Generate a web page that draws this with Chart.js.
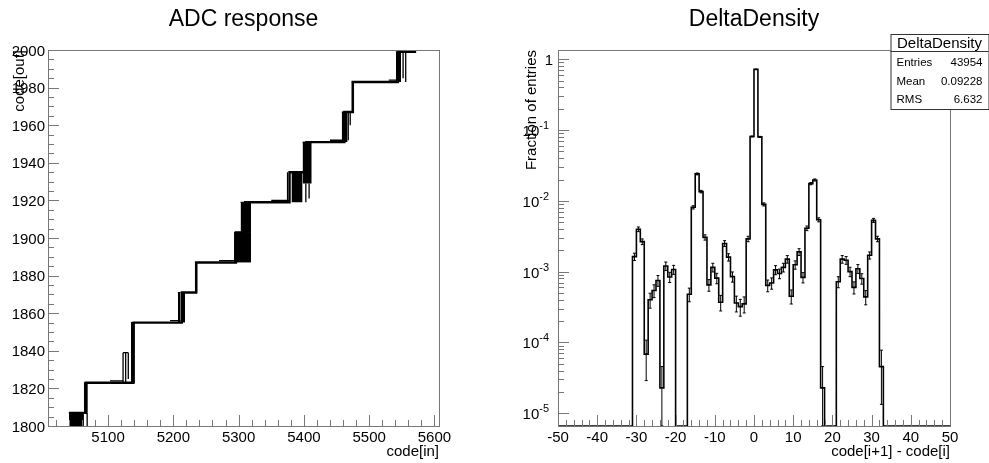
<!DOCTYPE html>
<html>
<head>
<meta charset="utf-8">
<script src="https://cdn.jsdelivr.net/npm/chart.js@4.4.0/dist/chart.umd.min.js"></script>
<style>
  html, body { margin: 0; padding: 0; background: #fff; }
  #wrap { position: relative; width: 989px; height: 463px; background: #fff; }
  #pad1 { position: absolute; left: 0; top: 0; }
  #pad2 { position: absolute; left: 494px; top: 0; }
</style>
</head>
<body>
<div id="wrap">
  <canvas id="pad1" width="494" height="463"></canvas>
  <canvas id="pad2" width="495" height="463"></canvas>
</div>
<script>
// ---------- left pad : ADC response ----------
var adcTitle = 'ADC response';
var adcXTitle = 'code[in]';
var adcYTitle = 'code[out]';
var adcXRange = [5008, 5607];
var adcYRange = [1800, 2000];
var adcXTicks = [5100, 5200, 5300, 5400, 5500, 5600];
var adcXLabels = ['5100', '5200', '5300', '5400', '5500', '5600'];
var adcYTicks = [1800, 1820, 1840, 1860, 1880, 1900, 1920, 1940, 1960, 1980, 2000];
var adcYLabels = ['1800', '1820', '1840', '1860', '1880', '1900', '1920', '1940', '1960', '1980', '2000'];

// main staircase corners
var stairIn  = [5040, 5066, 5066, 5139, 5139, 5213, 5213, 5235, 5235, 5296, 5296, 5310, 5310, 5378, 5378, 5404, 5404, 5462, 5462, 5475, 5475, 5544, 5544, 5572];
var stairOut = [1807, 1807, 1823, 1823, 1855, 1855, 1871, 1871, 1887, 1887, 1903, 1903, 1919, 1919, 1935, 1935, 1951, 1951, 1967, 1967, 1983, 1983, 1999, 1999];

// regions where the output toggles fast between two codes: [in from, in to, out low, out high]
var toggleBlocks = [
  [5040, 5063, 1800, 1807],
  [5063, 5069, 1807, 1823],
  [5135, 5141, 1823, 1855],
  [5207, 5211, 1855, 1871],
  [5214, 5218, 1855, 1871],
  [5233, 5237, 1871, 1887],
  [5293, 5319, 1887, 1903],
  [5303, 5319, 1903, 1919],
  [5381, 5398, 1919, 1935],
  [5398, 5412, 1929, 1951],
  [5458, 5467, 1951, 1967],
  [5473, 5476, 1967, 1983],
  [5541, 5549, 1983, 1999]
];

// single jumps and doubled pieces: [in0, out0, in1, out1]
var glitchSegs = [
  [5068, 1800, 5068, 1807],
  [5123, 1823, 5123, 1839], [5127, 1823, 5127, 1839], [5131, 1825, 5131, 1839], [5123, 1839, 5131, 1839],
  [5103, 1824, 5123, 1824],
  [5195, 1856, 5211, 1856],
  [5270, 1888, 5295, 1888],
  [5350, 1920, 5378, 1920],
  [5375, 1919, 5375, 1935], [5378, 1935, 5398, 1935],
  [5403, 1919, 5403, 1929], [5408, 1921, 5408, 1929],
  [5440, 1952, 5460, 1952],
  [5468, 1952, 5468, 1967], [5471, 1960, 5471, 1967],
  [5530, 1984, 5545, 1984],
  [5552, 1985, 5552, 1999], [5556, 1983, 5556, 1999],
  [5555, 2000, 5572, 2000]
];

// ---------- right pad : DeltaDensity ----------
var ddTitle = 'DeltaDensity';
var ddXTitle = 'code[i+1] - code[i]';
var ddYTitle = 'Fraction of entries';
var ddEntries = 43954;
var ddBinLow = -50;           // first bin edge, unit-width bins
var ddXRange = [-50, 50];
var ddYRange = [6.6e-6, 1.35];
var ddFraction = [
  0, 0, 0, 0, 0, 0, 0, 0, 0, 0, 0, 0, 0, 0, 0, 0, 0, 0, 0,
  1.63e-3, 3.97e-3, 2.65e-3, 6.83e-5, 4.0e-4, 5.4e-4, 7.5e-4, 2.28e-5, 1.2e-3, 8.4e-4, 1.07e-3,
  0, 0, 0,
  4.8e-4, 8.1e-3, 2.4e-2, 1.35e-2, 3.05e-3, 6.5e-4, 1.15e-3, 8.1e-4, 3.7e-4, 2.5e-3, 1.6e-3, 8.5e-4, 3.6e-4, 3.2e-4, 3.5e-4, 2.9e-3, 8.1e-2,
  0.72, 8.0e-2, 8.9e-3, 6.4e-4, 6.9e-4, 1.06e-3, 9.4e-4, 1.15e-3, 1.5e-3, 4.5e-4, 1.25e-3, 1.9e-3, 8.3e-4, 4.1e-3, 1.75e-2, 1.97e-2, 5.4e-3, 2.28e-5,
  0, 0, 0,
  7.2e-4, 1.5e-3, 1.45e-3, 1.0e-3, 6.0e-4, 1.1e-3, 8.0e-4, 4.4e-4, 1.7e-3, 5.3e-3, 2.9e-3, 4.55e-5,
  0, 0, 0, 0, 0, 0, 0, 0, 0, 0, 0, 0, 0, 0, 0, 0, 0
];
var ddXTicks = [-50, -40, -30, -20, -10, 0, 10, 20, 30, 40, 50];
var ddXLabels = ['-50', '-40', '-30', '-20', '-10', '0', '10', '20', '30', '40', '50'];
var ddYTicks = [1, 1e-1, 1e-2, 1e-3, 1e-4, 1e-5];
var ddYBase = ['1', '10', '10', '10', '10', '10'];
var ddYExp = ['', '-1', '-2', '-3', '-4', '-5'];
var statsLabels = ['Entries', 'Mean', 'RMS'];
var statsValues = ['43954', '0.09228', '6.632'];

var FONT = '"Liberation Sans", Arial, Helvetica, sans-serif';
function font(px) { return px + 'px ' + FONT; }

// ROOT-like frame: inner ticks, labels, titles
var rootPad = {
  id: 'rootPad',
  afterDraw: function(chart, args, o) {
    var ctx = chart.ctx, a = chart.chartArea;
    var xs = chart.scales.x, ys = chart.scales.y;
    ctx.save();
    ctx.strokeStyle = '#777';
    ctx.lineWidth = 1;
    ctx.beginPath();
    function xt(v, len) {
      var px = Math.round(xs.getPixelForValue(v)) + 0.5;
      ctx.moveTo(px, a.bottom); ctx.lineTo(px, a.bottom - len);
    }
    function yt(v, len) {
      var py = Math.round(ys.getPixelForValue(v)) + 0.5;
      ctx.moveTo(a.left, py); ctx.lineTo(a.left + len, py);
    }
    o.xMinor.forEach(function(v) { xt(v, 6); });
    o.xMajor.forEach(function(v) { xt(v, 11); });
    o.yMinor.forEach(function(v) { yt(v, 6); });
    o.yMajor.forEach(function(v) { yt(v, 11); });
    ctx.stroke();
    ctx.strokeRect(Math.round(a.left) + 0.5, Math.round(a.top) + 0.5,
                   Math.round(a.right - a.left), Math.round(a.bottom - a.top));

    ctx.fillStyle = '#000';
    ctx.font = font(15);
    ctx.textBaseline = 'alphabetic';
    ctx.textAlign = 'center';
    o.xMajor.forEach(function(v, i) {
      ctx.fillText(o.xLabels[i], xs.getPixelForValue(v), a.bottom + 16);
    });
    ctx.textAlign = 'right';
    o.yMajor.forEach(function(v, i) {
      var py = ys.getPixelForValue(v);
      if (o.yExp) {
        var exp = o.yExp[i];
        if (!exp) {
          ctx.font = font(15);
          ctx.fillText(o.yLabels[i], a.left - 5, py + 5.5);
        } else {
          ctx.font = font(11);
          var we = ctx.measureText(exp).width;
          var xr = a.left - 9;
          ctx.fillText(exp, xr, py - 1);
          ctx.font = font(15);
          ctx.fillText(o.yLabels[i], xr - we, py + 6);
        }
      } else {
        ctx.fillText(o.yLabels[i], a.left - 3, py + 5.5);
      }
    });

    // titles
    ctx.font = font(23);
    ctx.textAlign = 'center';
    ctx.fillText(o.title, (a.left + a.right) / 2, 26);
    ctx.font = font(15);
    ctx.textAlign = 'right';
    ctx.fillText(o.xTitle, a.right, a.bottom + 30);
    ctx.save();
    ctx.translate(o.yTitleX, a.top);
    ctx.rotate(-Math.PI / 2);
    ctx.textAlign = 'right';
    ctx.fillText(o.yTitle, 0, 0);
    ctx.restore();

    // statistics box
    if (o.stats) {
      var s = o.stats;
      ctx.fillStyle = '#fff';
      ctx.fillRect(s.x, s.y, s.w, s.h);
      ctx.strokeStyle = '#333';
      ctx.strokeRect(s.x + 0.5, s.y + 0.5, s.w, s.h);
      ctx.beginPath();
      ctx.moveTo(s.x, s.y + 17.5); ctx.lineTo(s.x + s.w, s.y + 17.5);
      ctx.stroke();
      ctx.fillStyle = '#000';
      ctx.font = font(15);
      ctx.textAlign = 'center';
      ctx.fillText(s.title, s.x + s.w / 2, s.y + 14);
      ctx.font = font(11.5);
      s.labels.forEach(function(l, i) {
        var yy = s.y + 32 + i * 18.5;
        ctx.textAlign = 'left';
        ctx.fillText(l, s.x + 6, yy);
        ctx.textAlign = 'right';
        ctx.fillText(s.values[i], s.x + s.w - 6, yy);
      });
    }
    ctx.restore();
  }
};

function range(from, to, step) {
  var r = [];
  for (var v = from; v <= to + 1e-9; v += step) r.push(v);
  return r;
}

// ---------- build left chart ----------
var leftSets = [];
toggleBlocks.forEach(function(b) {
  leftSets.push({
    data: [{x: b[0], y: b[3]}, {x: b[1], y: b[3]}],
    borderColor: '#000', borderWidth: 1, backgroundColor: '#000',
    pointRadius: 0, fill: {value: b[2]}
  });
});
var glitchPts = [];
glitchSegs.forEach(function(s) {
  glitchPts.push({x: s[0], y: s[1]}, {x: s[2], y: s[3]}, {x: s[2], y: null});
});
leftSets.push({
  data: glitchPts, borderColor: '#000', borderWidth: 1.3,
  pointRadius: 0, fill: false, spanGaps: false
});
leftSets.push({
  data: stairIn.map(function(x, i) { return {x: x, y: stairOut[i]}; }),
  borderColor: '#000', borderWidth: 2.4, pointRadius: 0, fill: false,
  borderJoinStyle: 'miter'
});

new Chart(document.getElementById('pad1'), {
  type: 'line',
  data: {datasets: leftSets},
  options: {
    responsive: false, animation: false, devicePixelRatio: 1, events: [],
    layout: {padding: {left: 48, right: 55, top: 50, bottom: 37}},
    scales: {
      x: {type: 'linear', min: adcXRange[0], max: adcXRange[1], display: false},
      y: {type: 'linear', min: adcYRange[0], max: adcYRange[1], display: false}
    },
    plugins: {
      legend: {display: false}, tooltip: {enabled: false},
      rootPad: {
        xMajor: adcXTicks, xLabels: adcXLabels, xMinor: range(5020, 5600, 20),
        yMajor: adcYTicks, yLabels: adcYLabels, yMinor: range(1800, 2000, 5),
        title: adcTitle, xTitle: adcXTitle, yTitle: adcYTitle, yTitleX: 24
      }
    }
  },
  plugins: [rootPad]
});

// ---------- build right chart ----------
var yFloor = ddYRange[0];
var histPts = ddFraction.map(function(f, i) {
  return {x: ddBinLow + i, y: f > 0 ? f : yFloor};
});
histPts.push({x: ddBinLow + ddFraction.length, y: yFloor});

var errPts = [];
ddFraction.forEach(function(f, i) {
  if (f <= 0) return;
  var e = Math.sqrt(f / ddEntries);
  var c = ddBinLow + i + 0.5;
  errPts.push({x: c, y: Math.max(f - e, yFloor)}, {x: c, y: f + e}, {x: c, y: null});
});

var logMinor = [];
[1e-5, 1e-4, 1e-3, 1e-2, 1e-1, 1].forEach(function(d) {
  for (var m = 2; m <= 9; m++) {
    var v = d * m;
    if (v > yFloor && v < ddYRange[1]) logMinor.push(v);
  }
});

new Chart(document.getElementById('pad2'), {
  type: 'line',
  data: {datasets: [
    {
      data: errPts, borderColor: '#000', borderWidth: 1, fill: false, spanGaps: false,
      pointStyle: 'line', pointRadius: 1.5, pointBorderWidth: 1, pointBorderColor: '#000'
    },
    {
      data: histPts, stepped: 'before', borderColor: '#000', borderWidth: 1.6,
      pointRadius: 0, fill: false
    }
  ]},
  options: {
    responsive: false, animation: false, devicePixelRatio: 1, events: [],
    layout: {padding: {left: 64, right: 39, top: 50, bottom: 37}},
    scales: {
      x: {type: 'linear', min: ddXRange[0], max: ddXRange[1], display: false},
      y: {type: 'logarithmic', min: ddYRange[0], max: ddYRange[1], display: false}
    },
    plugins: {
      legend: {display: false}, tooltip: {enabled: false},
      rootPad: {
        xMajor: ddXTicks, xLabels: ddXLabels, xMinor: range(-50, 50, 2),
        yMajor: ddYTicks, yLabels: ddYBase, yExp: ddYExp, yMinor: logMinor,
        title: ddTitle, xTitle: ddXTitle, yTitle: ddYTitle, yTitleX: 42,
        stats: {x: 396.5, y: 34, w: 98, h: 75, title: ddTitle, labels: statsLabels, values: statsValues}
      }
    }
  },
  plugins: [rootPad]
});
</script>
</body>
</html>
